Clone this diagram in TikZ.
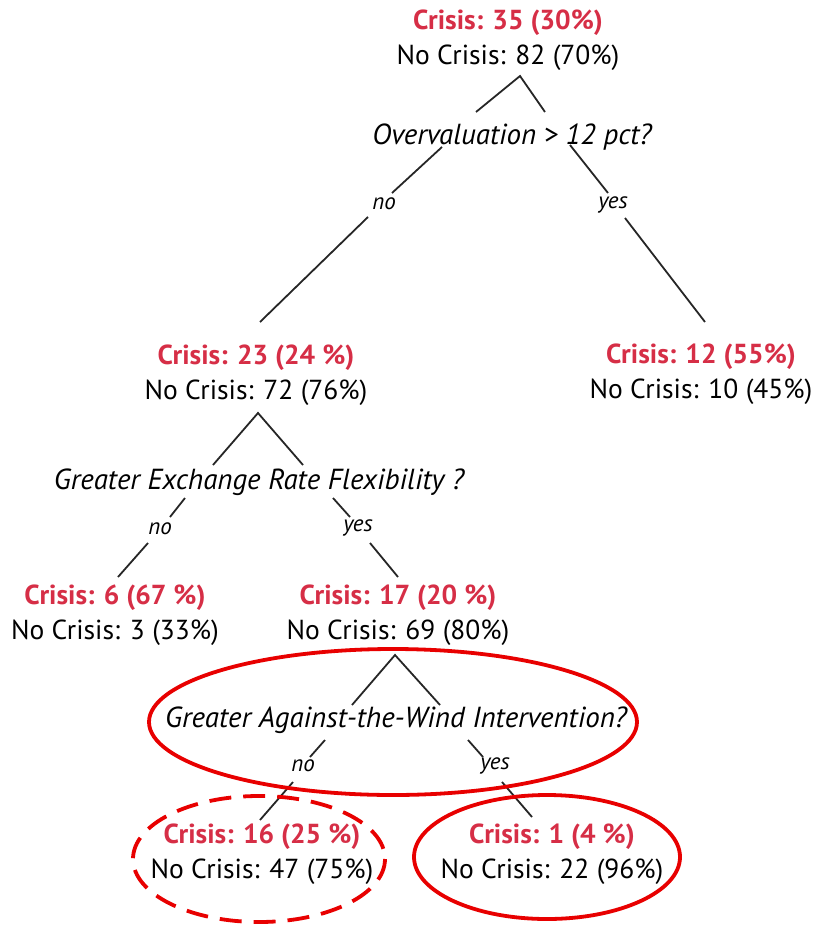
\documentclass[tikz,border=0pt]{standalone}
\usepackage{fontspec}
\setmainfont{PT Sans}
\definecolor{crisisred}{RGB}{214,46,70}
\definecolor{ringred}{RGB}{232,0,0}
\newcommand{\crs}[1]{\textcolor{crisisred}{\textbf{#1}}}
\begin{document}
\begin{tikzpicture}[x=1pt,y=-1pt,
  leaf/.style={align=center,inner sep=0pt,font=\fontsize{27.5}{35}\selectfont},
  question/.style={inner sep=0pt,font=\fontsize{29}{32}\selectfont\itshape},
  branch/.style={inner sep=0pt,font=\fontsize{23}{26}\selectfont\itshape},
  edge/.style={draw=black!85,line width=1.8pt},
  ring/.style={draw=ringred,line width=3.8pt}]
\useasboundingbox (0,0) rectangle (816,925);

% nodes
\node[leaf] (root) at (508,40) {\crs{Crisis: 35 (30\%)}\\No Crisis: 82 (70\%)};
\node[question] (q0) at (512,137) {Overvaluation > 12 pct?};
\node[branch] (no0) at (384,204) {no};
\node[branch] (yes0) at (613,205) {yes};
\node[leaf] (n23) at (256,375) {\crs{Crisis: 23 (24 \%)}\\No Crisis: 72 (76\%)};
\node[leaf] (n12) at (701,374) {\crs{Crisis: 12 (55\%)}\\No Crisis: 10 (45\%)};
\node[question] (q1) at (259,482) {Greater Exchange Rate Flexibility ?};
\node[branch] (no1) at (160,529) {no};
\node[branch] (yes1) at (358,528) {yes};
\node[leaf] (n6) at (115,615) {\crs{Crisis: 6 (67 \%)}\\No Crisis: 3 (33\%)};
\node[leaf] (n17) at (398,615) {\crs{Crisis: 17 (20 \%)}\\No Crisis: 69 (80\%)};
\node[question] (q2) at (396,720) {Greater Against-the-Wind Intervention?};
\node[branch] (no2) at (303,766) {no};
\node[branch] (yes2) at (495,766) {yes};
\node[leaf] (n16) at (262,854) {\crs{Crisis: 16 (25 \%)}\\No Crisis: 47 (75\%)};
\node[leaf] (n1) at (552,854) {\crs{Crisis: 1 (4 \%)}\\No Crisis: 22 (96\%)};

% connector points
\coordinate (a0) at (520,76);
\coordinate (a0l) at (476,112);
\coordinate (a0r) at (545,112);
\coordinate (b0l) at (442,147);
\coordinate (c0l) at (392,193);
\coordinate (d0l) at (368,217);
\coordinate (e0l) at (260,322);
\coordinate (b0r) at (570,145);
\coordinate (c0r) at (608,193);
\coordinate (d0r) at (625,218);
\coordinate (e0r) at (705,322);

\coordinate (a1) at (258,413);
\coordinate (a1l) at (213,465);
\coordinate (a1r) at (303,465);
\coordinate (b1l) at (185,498);
\coordinate (c1l) at (170,517);
\coordinate (d1l) at (148,543);
\coordinate (e1l) at (118,577);
\coordinate (b1r) at (333,498);
\coordinate (c1r) at (350,517);
\coordinate (d1r) at (370,543);
\coordinate (e1r) at (398,577);

\coordinate (a2) at (395,655);
\coordinate (a2l) at (352,705);
\coordinate (a2r) at (440,705);
\coordinate (b2l) at (325,740);
\coordinate (c2l) at (310,757);
\coordinate (d2l) at (293,782);
\coordinate (e2l) at (260,820);
\coordinate (b2r) at (468,740);
\coordinate (c2r) at (483,757);
\coordinate (d2r) at (502,782);
\coordinate (e2r) at (532,817);

% connectors
\draw[edge] (a0l) -- (a0) -- (a0r);
\draw[edge] (b0l) -- (c0l);
\draw[edge] (d0l) -- (e0l);
\draw[edge] (b0r) -- (c0r);
\draw[edge] (d0r) -- (e0r);
\draw[edge] (a1l) -- (a1) -- (a1r);
\draw[edge] (b1l) -- (c1l);
\draw[edge] (d1l) -- (e1l);
\draw[edge] (b1r) -- (c1r);
\draw[edge] (d1r) -- (e1r);
\draw[edge] (a2l) -- (a2) -- (a2r);
\draw[edge] (b2l) -- (c2l);
\draw[edge] (d2l) -- (e2l);
\draw[edge] (b2r) -- (c2r);
\draw[edge] (d2r) -- (e2r);

% highlight rings
\draw[ring] (393,722) ellipse [x radius=244,y radius=73];
\draw[ring,dash pattern=on 22pt off 12pt] (259,859) ellipse [x radius=126,y radius=63];
\draw[ring] (547,857) ellipse [x radius=133,y radius=62];
\end{tikzpicture}
\end{document}
